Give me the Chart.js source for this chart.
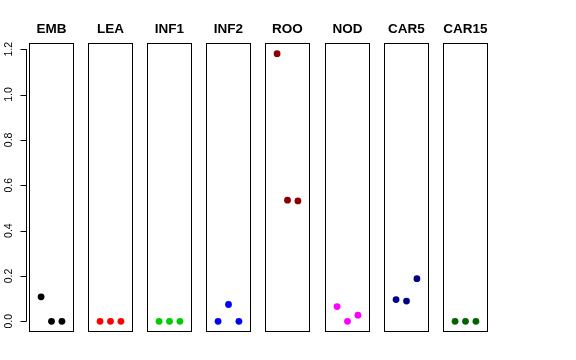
<!DOCTYPE html>
<html>
<head>
<meta charset="utf-8">
<script src="https://cdn.jsdelivr.net/npm/chart.js@4"></script>
<style>
  html, body { margin: 0; padding: 0; background: #fff; }
  #wrap { position: relative; width: 576px; height: 360px; overflow: hidden; }
  #wrap div { position: absolute; top: 0; height: 340px; }
</style>
</head>
<body>
<div id="wrap"></div>
<script>
// tissues shown one per panel, three replicates each
const tissues = ['EMB', 'LEA', 'INF1', 'INF2', 'ROO', 'NOD', 'CAR5', 'CAR15'];
const replicates = [1, 2, 3];

const EMB   = [0.108, 0, 0];
const LEA   = [0, 0, 0];
const INF1  = [0, 0, 0];
const INF2  = [0, 0.074, 0];
const ROO   = [1.18, 0.534, 0.531];
const NOD   = [0.065, 0, 0.027];
const CAR5  = [0.096, 0.089, 0.188];
const CAR15 = [0, 0, 0];

const yTicks = [0, 0.2, 0.4, 0.6, 0.8, 1.0, 1.2];
const dotColors = ['#000000', '#FF0000', '#00CD00', '#0000FF', '#8B0000', '#FF00FF', '#00008B', '#006400'];

const seriesList = [EMB, LEA, INF1, INF2, ROO, NOD, CAR5, CAR15];
const family = '"Liberation Sans", Arial, Helvetica, sans-serif';

// box round each panel, like R's box()
const boxPlugin = {
    id: 'panelBox',
    afterDraw(chart) {
        const {ctx, chartArea: a} = chart;
        ctx.save();
        ctx.strokeStyle = '#000';
        ctx.lineWidth = 1;
        ctx.strokeRect(a.left + 0.5, a.top + 0.5, a.right - a.left - 1, a.bottom - a.top - 1);
        ctx.restore();
    }
};

// R style axis: line only from first to last tick, set off from the box
const axisPlugin = {
    id: 'rAxis',
    afterDraw(chart) {
        const y = chart.scales.y;
        if (!y.options.display) return;
        const ctx = chart.ctx;
        const x0 = chart.chartArea.left - 2.5;
        ctx.save();
        ctx.strokeStyle = '#000';
        ctx.lineWidth = 1;
        ctx.beginPath();
        ctx.moveTo(x0, y.getPixelForValue(yTicks[0]));
        ctx.lineTo(x0, y.getPixelForValue(yTicks[yTicks.length - 1]));
        yTicks.forEach(v => {
            const py = Math.round(y.getPixelForValue(v)) + 0.5;
            ctx.moveTo(x0, py);
            ctx.lineTo(x0 - 6, py);
        });
        ctx.stroke();
        ctx.restore();
    }
};

const wrap = document.getElementById('wrap');

tissues.forEach((name, i) => {
    const first = i === 0;
    const panelLeft = Math.round(29 + i * 59.1);
    const box = document.createElement('div');
    box.style.left = (first ? 0 : panelLeft - 4) + 'px';
    box.style.width = (first ? panelLeft + 45 + 4 : 53) + 'px';
    const canvas = document.createElement('canvas');
    box.appendChild(canvas);
    wrap.appendChild(box);

    new Chart(canvas, {
        type: 'scatter',
        data: {
            datasets: [{
                data: replicates.map((r, k) => ({x: r, y: seriesList[i][k]})),
                backgroundColor: dotColors[i],
                borderWidth: 0,
                pointRadius: 3.4,
                pointHoverRadius: 3.4
            }]
        },
        options: {
            responsive: true,
            maintainAspectRatio: false,
            animation: false,
            events: [],
            layout: {padding: {left: first ? 0 : 4, right: 4, top: 0, bottom: 8}},
            scales: {
                x: {display: false, min: -0.16, max: 4.16},
                y: {
                    display: first,
                    min: -0.0472,
                    max: 1.2272,
                    afterBuildTicks: s => { s.ticks = yTicks.map(v => ({value: v})); },
                    afterFit: s => {
                        if (!first) return;
                        s.width = 29;
                        s.paddingTop = 0;
                        s.paddingBottom = 0;
                    },
                    border: {display: false},
                    grid: {drawOnChartArea: false, drawTicks: true, tickLength: 8, tickColor: 'rgba(0,0,0,0)'},
                    ticks: {
                        minRotation: 90,
                        maxRotation: 90,
                        crossAlign: 'center',
                        padding: 5,
                        color: '#000',
                        font: {size: 10.5, family: family},
                        callback: v => Number(v).toFixed(1)
                    }
                }
            },
            plugins: {
                legend: {display: false},
                tooltip: {enabled: false},
                title: {
                    display: true,
                    text: name,
                    fullSize: false,
                    color: '#000',
                    font: {size: 13.5, weight: 'bold', family: family, lineHeight: 1.2},
                    padding: {top: 21, bottom: 5.8}
                }
            }
        },
        plugins: [boxPlugin, axisPlugin]
    });
});
</script>
</body>
</html>
